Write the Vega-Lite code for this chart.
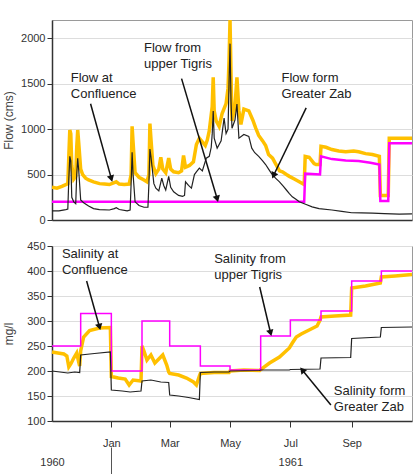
{
  "$schema": "https://vega.github.io/schema/vega-lite/v6.json",
  "padding": {"left": 2, "top": 19, "right": 3, "bottom": 0},
  "spacing": 13,
  "datasets": {
    "flow_conf": [
      {"date":"1960-11-02","value":360},{"date":"1960-11-07","value":350},{"date":"1960-11-12","value":370},{"date":"1960-11-16","value":390},{"date":"1960-11-18","value":400},{"date":"1960-11-19","value":700},{"date":"1960-11-20","value":990},{"date":"1960-11-21","value":950},{"date":"1960-11-22","value":600},{"date":"1960-11-24","value":450},{"date":"1960-11-26","value":480},{"date":"1960-11-27","value":800},{"date":"1960-11-28","value":990},{"date":"1960-11-29","value":850},{"date":"1960-12-01","value":560},{"date":"1960-12-03","value":500},{"date":"1960-12-06","value":460},{"date":"1960-12-09","value":440},{"date":"1960-12-14","value":420},{"date":"1960-12-20","value":400},{"date":"1960-12-25","value":395},{"date":"1960-12-30","value":390},{"date":"1961-01-06","value":420},{"date":"1961-01-09","value":395},{"date":"1961-01-14","value":390},{"date":"1961-01-19","value":395},{"date":"1961-01-21","value":500},{"date":"1961-01-22","value":1030},{"date":"1961-01-23","value":850},{"date":"1961-01-25","value":520},{"date":"1961-01-29","value":470},{"date":"1961-02-03","value":440},{"date":"1961-02-06","value":420},{"date":"1961-02-08","value":500},{"date":"1961-02-09","value":1060},{"date":"1961-02-10","value":900},{"date":"1961-02-12","value":600},{"date":"1961-02-15","value":510},{"date":"1961-02-18","value":560},{"date":"1961-02-20","value":690},{"date":"1961-02-22","value":560},{"date":"1961-02-25","value":520},{"date":"1961-02-28","value":680},{"date":"1961-03-02","value":560},{"date":"1961-03-05","value":530},{"date":"1961-03-10","value":520},{"date":"1961-03-13","value":540},{"date":"1961-03-15","value":710},{"date":"1961-03-17","value":580},{"date":"1961-03-21","value":600},{"date":"1961-03-25","value":640},{"date":"1961-03-28","value":830},{"date":"1961-03-31","value":900},{"date":"1961-04-03","value":860},{"date":"1961-04-06","value":820},{"date":"1961-04-08","value":880},{"date":"1961-04-10","value":980},{"date":"1961-04-13","value":1250},{"date":"1961-04-14","value":1570},{"date":"1961-04-15","value":1200},{"date":"1961-04-17","value":1090},{"date":"1961-04-20","value":1030},{"date":"1961-04-23","value":1170},{"date":"1961-04-27","value":1280},{"date":"1961-04-29","value":1450},{"date":"1961-04-30","value":1750},{"date":"1961-05-01","value":2200},{"date":"1961-05-02","value":1600},{"date":"1961-05-03","value":1090},{"date":"1961-05-06","value":1250},{"date":"1961-05-08","value":1570},{"date":"1961-05-10","value":1200},{"date":"1961-05-12","value":1050},{"date":"1961-05-15","value":1220},{"date":"1961-05-20","value":1200},{"date":"1961-05-24","value":1100},{"date":"1961-05-27","value":1010},{"date":"1961-05-30","value":930},{"date":"1961-06-03","value":870},{"date":"1961-06-06","value":820},{"date":"1961-06-09","value":720},{"date":"1961-06-13","value":680},{"date":"1961-06-16","value":620},{"date":"1961-06-20","value":540},{"date":"1961-06-23","value":530},{"date":"1961-06-27","value":500},{"date":"1961-06-30","value":480},{"date":"1961-07-05","value":450},{"date":"1961-07-10","value":420},{"date":"1961-07-15","value":390},{"date":"1961-07-16","value":700},{"date":"1961-07-20","value":690},{"date":"1961-07-25","value":620},{"date":"1961-07-27","value":610},{"date":"1961-07-31","value":610},{"date":"1961-08-01","value":810},{"date":"1961-08-06","value":800},{"date":"1961-08-12","value":775},{"date":"1961-08-19","value":760},{"date":"1961-08-26","value":750},{"date":"1961-09-03","value":760},{"date":"1961-09-08","value":750},{"date":"1961-09-15","value":730},{"date":"1961-09-22","value":720},{"date":"1961-09-29","value":700},{"date":"1961-09-30","value":270},{"date":"1961-10-08","value":270},{"date":"1961-10-09","value":900},{"date":"1961-11-01","value":900}
    ],
    "flow_zab": [
      {"date":"1960-11-02","value":100},{"date":"1960-11-09","value":100},{"date":"1960-11-16","value":115},{"date":"1960-11-18","value":120},{"date":"1960-11-19","value":450},{"date":"1960-11-20","value":700},{"date":"1960-11-21","value":650},{"date":"1960-11-22","value":250},{"date":"1960-11-24","value":200},{"date":"1960-11-26","value":180},{"date":"1960-11-27","value":500},{"date":"1960-11-28","value":680},{"date":"1960-11-29","value":550},{"date":"1960-12-01","value":220},{"date":"1960-12-04","value":190},{"date":"1960-12-09","value":155},{"date":"1960-12-14","value":125},{"date":"1960-12-20","value":115},{"date":"1960-12-30","value":110},{"date":"1961-01-04","value":125},{"date":"1961-01-06","value":135},{"date":"1961-01-09","value":115},{"date":"1961-01-17","value":100},{"date":"1961-01-20","value":110},{"date":"1961-01-21","value":400},{"date":"1961-01-22","value":745},{"date":"1961-01-23","value":500},{"date":"1961-01-25","value":200},{"date":"1961-01-29","value":160},{"date":"1961-02-03","value":140},{"date":"1961-02-07","value":140},{"date":"1961-02-08","value":400},{"date":"1961-02-09","value":780},{"date":"1961-02-10","value":700},{"date":"1961-02-13","value":400},{"date":"1961-02-15","value":350},{"date":"1961-02-18","value":320},{"date":"1961-02-21","value":460},{"date":"1961-02-23","value":380},{"date":"1961-02-25","value":330},{"date":"1961-02-28","value":480},{"date":"1961-03-02","value":360},{"date":"1961-03-05","value":310},{"date":"1961-03-10","value":270},{"date":"1961-03-14","value":260},{"date":"1961-03-16","value":270},{"date":"1961-03-17","value":420},{"date":"1961-03-20","value":380},{"date":"1961-03-23","value":350},{"date":"1961-03-26","value":500},{"date":"1961-03-28","value":530},{"date":"1961-03-31","value":570},{"date":"1961-04-03","value":540},{"date":"1961-04-07","value":680},{"date":"1961-04-10","value":700},{"date":"1961-04-12","value":800},{"date":"1961-04-13","value":950},{"date":"1961-04-14","value":1200},{"date":"1961-04-15","value":900},{"date":"1961-04-18","value":790},{"date":"1961-04-22","value":870},{"date":"1961-04-25","value":1120},{"date":"1961-04-27","value":950},{"date":"1961-04-29","value":1000},{"date":"1961-04-30","value":1500},{"date":"1961-05-01","value":1940},{"date":"1961-05-02","value":1300},{"date":"1961-05-03","value":1010},{"date":"1961-05-06","value":1100},{"date":"1961-05-08","value":1275},{"date":"1961-05-10","value":900},{"date":"1961-05-15","value":940},{"date":"1961-05-20","value":920},{"date":"1961-05-23","value":790},{"date":"1961-05-26","value":740},{"date":"1961-05-30","value":700},{"date":"1961-06-03","value":650},{"date":"1961-06-06","value":610},{"date":"1961-06-09","value":560},{"date":"1961-06-12","value":510},{"date":"1961-06-16","value":460},{"date":"1961-06-20","value":420},{"date":"1961-06-24","value":370},{"date":"1961-06-27","value":330},{"date":"1961-06-30","value":290},{"date":"1961-07-03","value":255},{"date":"1961-07-07","value":225},{"date":"1961-07-10","value":200},{"date":"1961-07-17","value":170},{"date":"1961-07-23","value":145},{"date":"1961-07-30","value":125},{"date":"1961-08-12","value":110},{"date":"1961-08-22","value":95},{"date":"1961-09-01","value":80},{"date":"1961-09-11","value":78},{"date":"1961-09-22","value":75},{"date":"1961-10-04","value":70},{"date":"1961-10-19","value":65},{"date":"1961-11-01","value":68}
    ],
    "flow_tig": [
      {"date":"1960-11-02","value":200},{"date":"1961-07-15","value":200},{"date":"1961-07-16","value":510},{"date":"1961-07-31","value":500},{"date":"1961-08-01","value":700},{"date":"1961-08-12","value":670},{"date":"1961-08-26","value":655},{"date":"1961-09-08","value":650},{"date":"1961-09-20","value":630},{"date":"1961-09-29","value":610},{"date":"1961-09-30","value":210},{"date":"1961-10-08","value":210},{"date":"1961-10-09","value":845},{"date":"1961-11-01","value":845}
    ],
    "sal_tig": [
      {"date":"1960-11-02","value":250},{"date":"1960-12-01","value":315},{"date":"1961-01-01","value":200},{"date":"1961-02-01","value":300},{"date":"1961-03-01","value":250},{"date":"1961-04-01","value":210},{"date":"1961-05-01","value":202},{"date":"1961-06-01","value":270},{"date":"1961-07-01","value":302},{"date":"1961-08-01","value":320},{"date":"1961-09-01","value":380},{"date":"1961-10-01","value":400},{"date":"1961-11-01","value":400}
    ],
    "sal_zab": [
      {"date":"1960-11-02","value":200},{"date":"1960-11-10","value":198},{"date":"1960-11-18","value":196},{"date":"1960-11-25","value":198},{"date":"1960-11-30","value":197},{"date":"1960-12-01","value":232},{"date":"1960-12-15","value":235},{"date":"1960-12-31","value":238},{"date":"1961-01-01","value":162},{"date":"1961-01-12","value":160},{"date":"1961-01-20","value":158},{"date":"1961-01-31","value":160},{"date":"1961-02-01","value":180},{"date":"1961-02-10","value":182},{"date":"1961-02-20","value":178},{"date":"1961-02-28","value":177},{"date":"1961-03-01","value":152},{"date":"1961-03-10","value":150},{"date":"1961-03-20","value":147},{"date":"1961-03-31","value":143},{"date":"1961-04-01","value":197},{"date":"1961-04-15","value":198},{"date":"1961-04-30","value":198},{"date":"1961-05-01","value":200},{"date":"1961-05-31","value":201},{"date":"1961-06-01","value":202},{"date":"1961-06-30","value":202},{"date":"1961-07-01","value":203},{"date":"1961-07-31","value":204},{"date":"1961-08-01","value":226},{"date":"1961-08-31","value":227},{"date":"1961-09-01","value":265},{"date":"1961-09-30","value":268},{"date":"1961-10-01","value":287},{"date":"1961-11-01","value":288}
    ],
    "sal_conf": [
      {"date":"1960-11-02","value":238},{"date":"1960-11-08","value":236},{"date":"1960-11-14","value":234},{"date":"1960-11-17","value":230},{"date":"1960-11-19","value":208},{"date":"1960-11-21","value":214},{"date":"1960-11-24","value":226},{"date":"1960-11-27","value":236},{"date":"1960-11-29","value":218},{"date":"1960-11-30","value":210},{"date":"1960-12-01","value":240},{"date":"1960-12-04","value":268},{"date":"1960-12-10","value":281},{"date":"1960-12-20","value":286},{"date":"1960-12-31","value":287},{"date":"1961-01-01","value":189},{"date":"1961-01-08","value":186},{"date":"1961-01-15","value":184},{"date":"1961-01-19","value":172},{"date":"1961-01-23","value":182},{"date":"1961-01-31","value":180},{"date":"1961-02-01","value":250},{"date":"1961-02-03","value":240},{"date":"1961-02-06","value":222},{"date":"1961-02-10","value":232},{"date":"1961-02-14","value":216},{"date":"1961-02-18","value":224},{"date":"1961-02-22","value":232},{"date":"1961-02-26","value":212},{"date":"1961-02-28","value":198},{"date":"1961-03-01","value":195},{"date":"1961-03-10","value":192},{"date":"1961-03-18","value":186},{"date":"1961-03-25","value":178},{"date":"1961-03-28","value":172},{"date":"1961-03-31","value":190},{"date":"1961-04-01","value":195},{"date":"1961-04-15","value":197},{"date":"1961-04-30","value":197},{"date":"1961-05-01","value":200},{"date":"1961-05-15","value":202},{"date":"1961-05-31","value":201},{"date":"1961-06-01","value":203},{"date":"1961-06-10","value":216},{"date":"1961-06-20","value":228},{"date":"1961-06-30","value":246},{"date":"1961-07-03","value":256},{"date":"1961-07-07","value":268},{"date":"1961-07-12","value":274},{"date":"1961-07-20","value":282},{"date":"1961-07-28","value":290},{"date":"1961-07-31","value":302},{"date":"1961-08-01","value":308},{"date":"1961-08-15","value":310},{"date":"1961-08-31","value":312},{"date":"1961-09-01","value":366},{"date":"1961-09-15","value":370},{"date":"1961-09-30","value":376},{"date":"1961-10-01","value":388},{"date":"1961-10-15","value":390},{"date":"1961-11-01","value":393}
    ],
    "notes_flow": [
      {"date":"1960-11-21","value":1630,"label":"Flow at\nConfluence"},
      {"date":"1961-02-03","value":1960,"label":"Flow from\nupper Tigris"},
      {"date":"1961-06-22","value":1630,"label":"Flow form\nGreater Zab"}
    ],
    "notes_sal": [
      {"date":"1960-11-12","value":446,"label":"Salinity at\nConfluence"},
      {"date":"1961-04-15","value":436,"label":"Salinity from\nupper Tigris"},
      {"date":"1961-08-14","value":172,"label":"Salinity form\nGreater Zab"}
    ],
    "arrows_flow": [
      {"id":"a1","date":"1960-12-11","value":1278,"date2":"1961-01-01","value2":455},
      {"id":"a2","date":"1961-03-13","value":1555,"date2":"1961-04-18","value2":233},
      {"id":"a3","date":"1961-07-17","value":1233,"date2":"1961-06-14","value2":489}
    ],
    "arrows_sal": [
      {"id":"a4","date":"1960-12-07","value":380,"date2":"1960-12-20","value2":288},
      {"id":"a5","date":"1961-05-31","value":368,"date2":"1961-06-11","value2":276},
      {"id":"a6","date":"1961-08-11","value":132,"date2":"1961-07-13","value2":202}
    ]
  },
  "vconcat": [
    {
      "width": 360,
      "height": 200,
      "encoding": {
        "x": {"field": "date", "type": "temporal",
              "scale": {"type": "utc", "domain": [{"year":1960,"month":11,"date":2,"utc":true},{"year":1961,"month":11,"date":1,"utc":true}]},
              "axis": {"labels": false, "ticks": false, "grid": false, "title": null, "domain": true}},
        "y": {"field": "value", "type": "quantitative",
              "scale": {"domain": [0, 2200], "nice": false},
              "axis": {"values": [0,500,1000,1500,2000], "format": "d", "title": "Flow (cms)", "tickSize": 5, "labelPadding": 2, "titlePadding": 5, "grid": true}}
      },
      "layer": [
        {"data": {"name": "flow_conf"}, "mark": {"type": "line", "color": "#FFC000", "strokeWidth": 3.5, "clip": true}},
        {"data": {"name": "flow_tig"}, "mark": {"type": "line", "color": "#FF00FF", "strokeWidth": 2.5, "clip": true}},
        {"data": {"name": "flow_zab"}, "mark": {"type": "line", "color": "#222222", "strokeWidth": 1.2, "clip": true}},
        {"data": {"name": "arrows_flow"}, "mark": {"type": "rule", "color": "#111111", "strokeWidth": 1.5},
         "encoding": {"x2": {"field": "date2"}, "y2": {"field": "value2"}}},
        {"data": {"name": "arrows_flow"}, "transform": [{"filter": "datum.id != 'a3'"}],
         "mark": {"type": "point", "shape": "triangle-up", "filled": true, "color": "#111111", "size": 55, "angle": 164, "opacity": 1},
         "encoding": {"x": {"field": "date2", "type": "temporal", "scale": {"type": "utc", "domain": [{"year":1960,"month":11,"date":2,"utc":true},{"year":1961,"month":11,"date":1,"utc":true}]}}, "y": {"field": "value2", "type": "quantitative"}}},
        {"data": {"name": "arrows_flow"}, "transform": [{"filter": "datum.id == 'a3'"}],
         "mark": {"type": "point", "shape": "triangle-up", "filled": true, "color": "#111111", "size": 55, "angle": 205, "opacity": 1},
         "encoding": {"x": {"field": "date2", "type": "temporal", "scale": {"type": "utc", "domain": [{"year":1960,"month":11,"date":2,"utc":true},{"year":1961,"month":11,"date":1,"utc":true}]}}, "y": {"field": "value2", "type": "quantitative"}}},
        {"data": {"name": "notes_flow"},
         "mark": {"type": "text", "align": "left", "baseline": "top", "lineBreak": "\n", "lineHeight": 16, "font": "Liberation Sans", "fontSize": 13, "color": "#222222"},
         "encoding": {"text": {"field": "label"}}}
      ]
    },
    {
      "width": 360,
      "height": 175,
      "encoding": {
        "x": {"field": "date", "type": "temporal",
              "scale": {"type": "utc", "domain": [{"year":1960,"month":11,"date":2,"utc":true},{"year":1961,"month":11,"date":1,"utc":true}]},
              "axis": null},
        "y": {"field": "value", "type": "quantitative",
              "scale": {"domain": [100, 450], "nice": false},
              "axis": {"values": [100,150,200,250,300,350,400,450], "format": "d", "title": "mg/l", "tickSize": 5, "labelPadding": 2, "titlePadding": 11, "grid": true}}
      },
      "layer": [
        {"data": {"name": "sal_conf"}, "mark": {"type": "line", "color": "#FFC000", "strokeWidth": 3.5},
         "encoding": {"x": {"field": "date", "type": "temporal",
              "scale": {"type": "utc", "domain": [{"year":1960,"month":11,"date":2,"utc":true},{"year":1961,"month":11,"date":1,"utc":true}]},
              "axis": {"orient": "bottom", "values": [{"year":1961,"month":1,"date":1,"utc":true},{"year":1961,"month":3,"date":1,"utc":true},{"year":1961,"month":5,"date":1,"utc":true},{"year":1961,"month":7,"date":1,"utc":true},{"year":1961,"month":9,"date":1,"utc":true}],
                       "format": "%b", "title": null, "grid": false, "tickSize": 6, "labelPadding": 10, "labelFlush": false}}}},
        {"data": {"name": "sal_tig"}, "mark": {"type": "line", "color": "#FF00FF", "strokeWidth": 1.5, "interpolate": "step-after"}},
        {"data": {"name": "sal_zab"}, "mark": {"type": "line", "color": "#222222", "strokeWidth": 1.2},
         "encoding": {"x": {"field": "date", "type": "temporal",
              "scale": {"type": "utc", "domain": [{"year":1960,"month":11,"date":2,"utc":true},{"year":1961,"month":11,"date":1,"utc":true}]},
              "axis": {"orient": "bottom", "offset": 26, "domain": false, "grid": false, "title": null,
                       "values": [{"year":1960,"month":11,"date":2,"utc":true},{"year":1961,"month":1,"date":1,"utc":true},{"year":1961,"month":7,"date":1,"utc":true}],
                       "labelExpr": "utcmonth(datum.value) == 0 ? '' : utcFormat(datum.value, '%Y')",
                       "tickSize": 27, "tickColor": "#555555", "labelPadding": -18, "labelFlush": false,
                       "tickOpacity": {"condition": {"test": "utcmonth(datum.value) == 0", "value": 1}, "value": 0}}}}},
        {"data": {"name": "arrows_sal"}, "mark": {"type": "rule", "color": "#111111", "strokeWidth": 1.5},
         "encoding": {"x2": {"field": "date2"}, "y2": {"field": "value2"}}},
        {"data": {"name": "arrows_sal"}, "transform": [{"filter": "datum.id != 'a6'"}],
         "mark": {"type": "point", "shape": "triangle-up", "filled": true, "color": "#111111", "size": 55, "angle": 165, "opacity": 1},
         "encoding": {"x": {"field": "date2", "type": "temporal", "scale": {"type": "utc", "domain": [{"year":1960,"month":11,"date":2,"utc":true},{"year":1961,"month":11,"date":1,"utc":true}]}, "axis": null}, "y": {"field": "value2", "type": "quantitative"}}},
        {"data": {"name": "arrows_sal"}, "transform": [{"filter": "datum.id == 'a6'"}],
         "mark": {"type": "point", "shape": "triangle-up", "filled": true, "color": "#111111", "size": 55, "angle": 320, "opacity": 1},
         "encoding": {"x": {"field": "date2", "type": "temporal", "scale": {"type": "utc", "domain": [{"year":1960,"month":11,"date":2,"utc":true},{"year":1961,"month":11,"date":1,"utc":true}]}, "axis": null}, "y": {"field": "value2", "type": "quantitative"}}},
        {"data": {"name": "notes_sal"},
         "mark": {"type": "text", "align": "left", "baseline": "top", "lineBreak": "\n", "lineHeight": 16, "font": "Liberation Sans", "fontSize": 13, "color": "#222222"},
         "encoding": {"text": {"field": "label"}}}
      ],
      "resolve": {"axis": {"x": "independent"}}
    }
  ],
  "config": {
    "font": "Liberation Sans",
    "view": {"stroke": "#9a9a9a", "strokeWidth": 1},
    "axis": {
      "labelFont": "Liberation Sans", "labelFontSize": 11, "labelColor": "#333333",
      "titleFont": "Liberation Sans", "titleFontSize": 12, "titleFontWeight": "normal", "titleColor": "#444444",
      "domainColor": "#333333", "domainWidth": 1.5, "tickColor": "#333333", "gridColor": "#dddddd"
    }
  }
}
